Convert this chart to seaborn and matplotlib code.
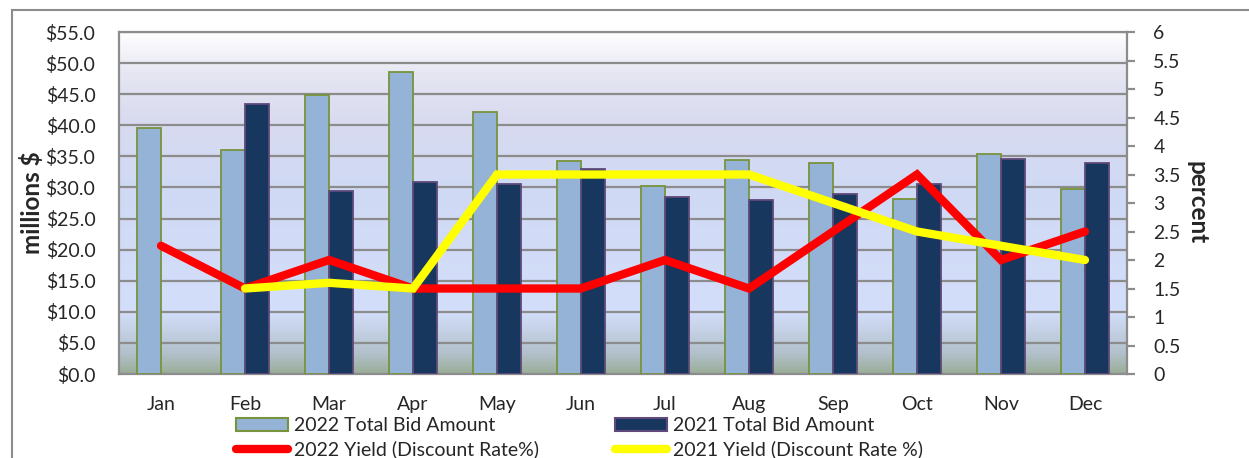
import numpy as np
import pandas as pd
import matplotlib
matplotlib.use('Agg')
import matplotlib.pyplot as plt
from matplotlib.colors import LinearSegmentedColormap
from matplotlib.patches import Patch, Rectangle
from matplotlib.lines import Line2D
import seaborn as sns

# data
months = ['Jan', 'Feb', 'Mar', 'Apr', 'May', 'Jun', 'Jul', 'Aug', 'Sep', 'Oct', 'Nov', 'Dec']
bid_2022 = [39.6, 36.0, 44.8, 48.6, 42.1, 34.3, 30.2, 34.4, 34.0, 28.2, 35.4, 29.7]
bid_2021 = [np.nan, 43.4, 29.4, 30.8, 30.5, 32.9, 28.4, 28.0, 28.9, 30.5, 34.6, 34.0]
yield_2022 = [2.25, 1.5, 2.0, 1.5, 1.5, 1.5, 2.0, 1.5, 2.5, 3.5, 2.0, 2.5]
yield_2021 = [np.nan, 1.5, 1.6, 1.5, 3.5, 3.5, 3.5, 3.5, 3.0, 2.5, 2.25, 2.0]
left_ticks = np.arange(0, 55.1, 5)
right_ticks = np.arange(0, 6.01, 0.5)

sns.set_theme(style='white')
plt.rcParams['font.family'] = ['Lato', 'DejaVu Sans']

light, light_edge = '#95B3D7', '#77933C'
dark, dark_edge = '#17375E', '#604A7B'
grid_c = '#8C8C8C'

df = pd.DataFrame({
    'month': months * 2,
    'amount': bid_2022 + bid_2021,
    'series': ['2022 Total Bid Amount'] * 12 + ['2021 Total Bid Amount'] * 12,
})

fig = plt.figure(figsize=(12.49, 4.58), dpi=100)
ax = fig.add_axes([0.0953, 0.1834, 0.807, 0.7467])

# gradient background of the plot area
stops = [(0.0, '#9AAE98'), (0.06, '#B2C1CC'), (0.18, '#D3DEFA'),
         (0.55, '#D0D9F4'), (0.75, '#D9DBEF'), (0.88, '#E6E6F3'), (1.0, '#FFFFFF')]
cmap = LinearSegmentedColormap.from_list('bg', stops)
grad = np.linspace(0, 1, 256).reshape(-1, 1)
ax.imshow(grad, cmap=cmap, origin='lower', aspect='auto',
          extent=[-0.5, 11.5, 0, 55], zorder=0)

for t in left_ticks:
    ax.axhline(t, color=grid_c, lw=1.6, zorder=1)

sns.barplot(data=df, x='month', y='amount', hue='series', ax=ax,
            palette=[light, dark], width=0.572, saturation=1,
            legend=False, zorder=3)
for bar, ec in zip(ax.patches, [light_edge] * 12 + [dark_edge] * 12):
    bar.set_edgecolor(ec)
    bar.set_linewidth(1.3)

ax.set_xlim(-0.5, 11.5)
ax.set_ylim(0, 55)
ax.set_yticks(left_ticks)
ax.set_yticklabels([f'${v:.1f}' for v in left_ticks], fontsize=14)
ax.tick_params(axis='x', labelsize=14, pad=16, length=0)
ax.tick_params(axis='y', length=0, pad=17)
ax.set_xlabel('')
ax.set_ylabel('millions $', fontsize=17.5, fontweight='bold', labelpad=1)
for s in ax.spines.values():
    s.set_color(grid_c)
    s.set_linewidth(1.6)
ax.spines['right'].set_visible(False)

ax2 = ax.twinx()
x = np.arange(len(months))
sns.lineplot(x=x, y=yield_2022, ax=ax2, color='#FF0000', lw=6,
             solid_capstyle='round', solid_joinstyle='miter', zorder=5)
sns.lineplot(x=x, y=yield_2021, ax=ax2, color='#FFFF00', lw=6,
             solid_capstyle='round', solid_joinstyle='miter', zorder=6)
ax2.set_ylim(0, 6)
ax2.set_yticks(right_ticks)
ax2.set_yticklabels([f'{v:g}' for v in right_ticks], fontsize=14)
ax2.tick_params(axis='y', length=6, width=1.6, color=grid_c, pad=13, direction='out')
ax2.set_ylabel('percent', fontsize=17.5, fontweight='bold', rotation=-90, labelpad=20)
for s in ax2.spines.values():
    s.set_visible(False)
ax2.spines['right'].set_visible(True)
ax2.spines['right'].set_color(grid_c)
ax2.spines['right'].set_linewidth(1.6)
ax2.grid(False)

# column-first order so rows read bids / yields
handles = [
    Patch(facecolor=light, edgecolor=light_edge, lw=1.5, label='2022 Total Bid Amount'),
    Line2D([], [], color='#FF0000', lw=6, solid_capstyle='round', label='2022 Yield (Discount Rate%)'),
    Patch(facecolor=dark, edgecolor=dark_edge, lw=1.5, label='2021 Total Bid Amount'),
    Line2D([], [], color='#FFFF00', lw=6, solid_capstyle='round', label='2021 Yield (Discount Rate %)'),
]
fig.legend(handles=handles, ncol=2, loc='upper left', bbox_to_anchor=(0.181, 0.11),
           frameon=False, fontsize=14, handlelength=2.7, handleheight=0.62,
           handletextpad=0.3, columnspacing=3.9, labelspacing=0.3, borderpad=0)

# outer chart frame
fig.add_artist(Rectangle((12 / 1249, -0.1), 1.2, 1.1 - 10 / 458,
                         transform=fig.transFigure, fill=False,
                         edgecolor='#8C8C8C', lw=1.5))

fig.savefig('out.png', dpi=100)
